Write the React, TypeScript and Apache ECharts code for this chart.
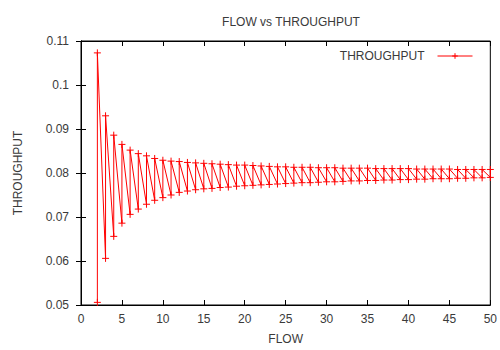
import React, { useEffect, useRef } from "react";
import * as echarts from "echarts";

const flows = [2, 3, 4, 5, 6, 7, 8, 9, 10, 11, 12, 13, 14, 15, 16, 17, 18, 19, 20, 21, 22, 23, 24, 25, 26, 27, 28, 29, 30, 31, 32, 33, 34, 35, 36, 37, 38, 39, 40, 41, 42, 43, 44, 45, 46, 47, 48, 49, 50];
const lowThroughput = [0.0506, 0.0606, 0.0656, 0.0686, 0.0706, 0.0718, 0.0729, 0.0738, 0.0744, 0.075, 0.0756, 0.0759, 0.0762, 0.0764, 0.0765, 0.0767, 0.0768, 0.077, 0.0771, 0.0772, 0.0773, 0.0774, 0.0775, 0.0776, 0.0777, 0.0778, 0.0778, 0.0779, 0.078, 0.078, 0.0781, 0.0782, 0.0782, 0.0783, 0.0783, 0.0784, 0.0784, 0.0785, 0.0785, 0.0786, 0.0786, 0.0787, 0.0787, 0.0787, 0.0788, 0.0788, 0.0789, 0.0789, 0.079];
const highThroughput = [0.1073, 0.093, 0.0886, 0.0865, 0.0852, 0.0844, 0.0839, 0.0833, 0.0829, 0.0827, 0.0826, 0.0824, 0.0823, 0.0822, 0.0821, 0.082, 0.0819, 0.0818, 0.0818, 0.0817, 0.0816, 0.0815, 0.0814, 0.0814, 0.0813, 0.0813, 0.0813, 0.0812, 0.0812, 0.0812, 0.0811, 0.0811, 0.0811, 0.0811, 0.081, 0.081, 0.081, 0.081, 0.081, 0.0809, 0.0809, 0.0809, 0.0809, 0.0809, 0.0808, 0.0808, 0.0808, 0.0808, 0.0808];

const FONT = "Liberation Sans";
const TEXT = "#3a3a3a";
const plusSymbol = "path://M5,0L5,10M0,5L10,5";

export default function App() {
  const ref = useRef<HTMLDivElement>(null);
  useEffect(() => {
    document.body.style.margin = "0";
    const chart = echarts.init(ref.current!, null, { renderer: "svg" });
    const data: number[][] = [];
    flows.forEach((f, i) => {
      data.push([f, lowThroughput[i]]);
      data.push([f, highThroughput[i]]);
    });
    const axisCommon = {
      type: "value" as const,
      axisLine: { show: true, lineStyle: { color: "#000", width: 1 } },
      axisTick: { show: true, inside: true, length: 5, lineStyle: { color: "#000" } },
      splitLine: { show: false },
    };
    chart.setOption({
      animation: false,
      title: {
        text: "FLOW vs THROUGHPUT",
        left: 286,
        top: 11,
        textAlign: "center",
        textStyle: { fontFamily: FONT, fontSize: 12, fontWeight: "normal", color: TEXT },
      },
      legend: {
        right: 22,
        top: 45,
        align: "right",
        itemWidth: 35,
        itemHeight: 7,
        lineStyle: { width: 1, color: "#ff0000" },
        itemStyle: { color: "none", borderColor: "#ff0000", borderWidth: 1 },
        textStyle: { fontFamily: FONT, fontSize: 12, color: TEXT, padding: [0, 8, 0, 0] },
        data: ["THROUGHPUT"],
      },
      grid: { left: 81, right: 7, top: 41, bottom: 39, show: true, borderColor: "#000", borderWidth: 1 },
      xAxis: [
        {
          ...axisCommon,
          min: 0,
          max: 50,
          interval: 5,
          name: "FLOW",
          nameLocation: "middle",
          nameGap: 28,
          nameTextStyle: { fontFamily: FONT, fontSize: 12, color: TEXT },
          axisLabel: { fontFamily: FONT, fontSize: 12, color: TEXT, margin: 8 },
        },
        {
          ...axisCommon,
          position: "top",
          min: 0,
          max: 50,
          interval: 5,
          axisLabel: { show: false },
        },
      ],
      yAxis: [
        {
          ...axisCommon,
          min: 0.05,
          max: 0.11,
          interval: 0.01,
          name: "THROUGHPUT",
          nameLocation: "middle",
          nameGap: 57,
          nameTextStyle: { fontFamily: FONT, fontSize: 12, color: TEXT },
          axisLabel: {
            fontFamily: FONT,
            fontSize: 12,
            color: TEXT,
            margin: 12,
            formatter: (v: number) => String(parseFloat(v.toFixed(2))),
          },
        },
        {
          ...axisCommon,
          position: "right",
          min: 0.05,
          max: 0.11,
          interval: 0.01,
          axisLabel: { show: false },
        },
      ],
      series: [
        {
          name: "THROUGHPUT",
          type: "line",
          data,
          symbol: plusSymbol,
          symbolSize: 7,
          lineStyle: { color: "#ff0000", width: 1 },
          itemStyle: { color: "none", borderColor: "#ff0000", borderWidth: 1 },
        },
      ],
    });
    return () => chart.dispose();
  }, []);
  return <div ref={ref} style={{ width: 500, height: 350 }} />;
}
